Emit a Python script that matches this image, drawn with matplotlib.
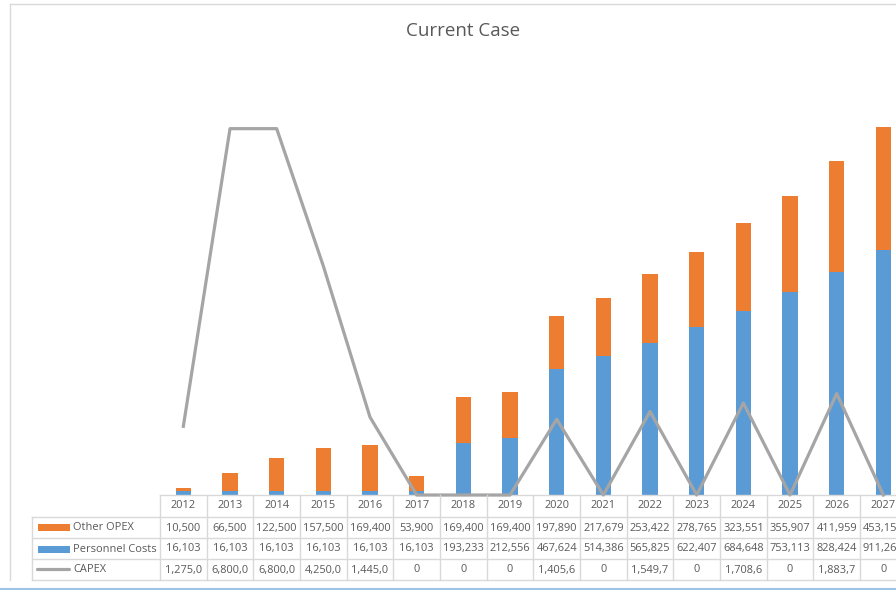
import numpy as np
import matplotlib.pyplot as plt
from matplotlib.lines import Line2D
from matplotlib.patches import Rectangle
from matplotlib.transforms import blended_transform_factory

plt.rcParams['font.family'] = ['Open Sans', 'DejaVu Sans']

# Data
years = ['2012', '2013', '2014', '2015', '2016', '2017', '2018', '2019',
         '2020', '2021', '2022', '2023', '2024', '2025', '2026', '2027']
other_opex = [10500, 66500, 122500, 157500, 169400, 53900, 169400, 169400,
              197890, 217679, 253422, 278765, 323551, 355907, 411959, 453152]
personnel = [16103, 16103, 16103, 16103, 16103, 16103, 193233, 212556,
             467624, 514386, 565825, 622407, 684648, 753113, 828424, 911267]
capex = [1275000, 6800000, 6800000, 4250000, 1445000, 0, 0, 0,
         1405600, 0, 1549700, 0, 1708600, 0, 1883700, 0]

c_orange = '#ED7D31'
c_blue = '#5B9BD5'
c_grey = '#A5A5A5'
c_text = '#595959'
c_grid = '#D9D9D9'
fs = 7.9

W, H = 896, 590
fig = plt.figure(figsize=(W / 100, H / 100), dpi=100)

def fx(px):
    return px / W

def fy(py):
    return 1 - py / H

# plot area (pixel coords of reference)
left, right, top, bottom = 160, 906.7, 64, 495
ax = fig.add_axes([fx(left), fy(bottom), fx(right - left), (bottom - top) / H])
x = np.arange(len(years))

ax.bar(x, personnel, width=0.33, color=c_blue, linewidth=0)
ax.bar(x, other_opex, width=0.33, bottom=personnel, color=c_orange, linewidth=0)
ax.set_xlim(-0.5, len(years) - 0.5)
ax.set_ylim(0, 1600000)
ax.set_xticks([])
ax.set_yticks([])
for s in ['top', 'left', 'right']:
    ax.spines[s].set_visible(False)
ax.spines['bottom'].set_color(c_grid)
ax.spines['bottom'].set_linewidth(1)

ax2 = ax.twinx()
ax2.plot(x, capex, color=c_grey, linewidth=2.3, clip_on=False, zorder=5)
ax2.set_ylim(0, 8000000)
ax2.set_yticks([])
for s in ax2.spines.values():
    s.set_visible(False)

fig.text(fx(463), fy(31), 'Current Case', fontsize=13.5, color=c_text,
         ha='center', va='center')

# Data table
tr = blended_transform_factory(ax.transData, fig.transFigure)
row_lines = [495, 517, 538, 559, 580]
for py in row_lines[1:]:
    fig.add_artist(Line2D([fx(32), fx(right)], [fy(py), fy(py)],
                          color=c_grid, lw=1))
fig.add_artist(Line2D([fx(32), fx(32)], [fy(517), fy(580)], color=c_grid, lw=1))
for i in range(len(years) + 1):
    fig.add_artist(Line2D([i - 0.5, i - 0.5], [fy(495), fy(580)],
                          color=c_grid, lw=1, transform=tr))

def fmt(v, n=7):
    s = '{:,.0f}'.format(v)
    return s[:n]

row_y = [506, 528, 549, 570]
for i, yr in enumerate(years):
    fig.text(i, fy(row_y[0]), yr, transform=tr, ha='center', va='center',
             fontsize=fs, color=c_text)
    fig.text(i, fy(row_y[1]), fmt(other_opex[i]), transform=tr, ha='center',
             va='center', fontsize=fs, color=c_text)
    fig.text(i, fy(row_y[2]), fmt(personnel[i]), transform=tr, ha='center',
             va='center', fontsize=fs, color=c_text)
    fig.text(i, fy(row_y[3]), fmt(capex[i]), transform=tr, ha='center',
             va='center', fontsize=fs, color=c_text)

# legend keys inside table
fig.add_artist(Rectangle((fx(38), fy(531)), fx(32), 7 / H, color=c_orange, lw=0))
fig.add_artist(Rectangle((fx(38), fy(553)), fx(32), 7 / H, color=c_blue, lw=0))
fig.add_artist(Line2D([fx(37), fx(69)], [fy(569), fy(569)], color=c_grey,
                      lw=2.3, solid_capstyle='round'))
for py, lab in zip(row_y[1:], ['Other OPEX', 'Personnel Costs', 'CAPEX']):
    fig.text(fx(73), fy(py), lab, ha='left', va='center', fontsize=fs,
             color=c_text)

# chart frame
fig.add_artist(Line2D([fx(10), fx(10)], [fy(4), fy(580)], color=c_grid, lw=1))
fig.add_artist(Line2D([fx(10), 1], [fy(4), fy(4)], color=c_grid, lw=1))
fig.add_artist(Line2D([0, 1], [fy(589), fy(589)], color='#9DC3E6', lw=1.5))

fig.savefig('out.png', dpi=100)
